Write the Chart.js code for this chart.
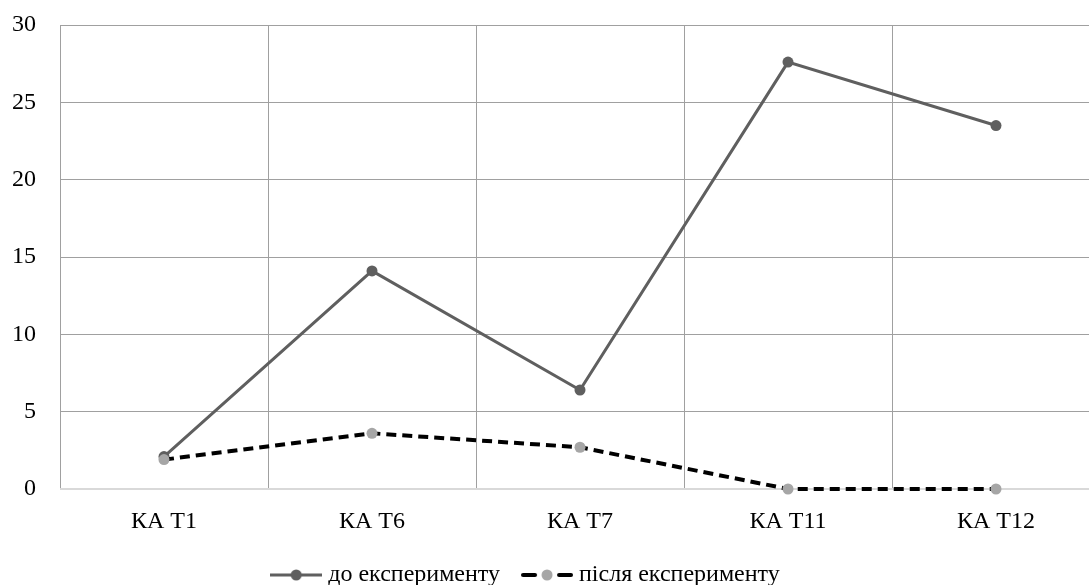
<!DOCTYPE html>
<html>
<head>
<meta charset="utf-8">
<script src="https://cdn.jsdelivr.net/npm/chart.js@4/dist/chart.umd.min.js"></script>
<style>
  html, body { margin: 0; padding: 0; background: #ffffff; overflow: hidden; }
  #wrap { width: 1110px; height: 597px; position: relative; }
</style>
</head>
<body>
<div id="wrap"><canvas id="c"></canvas></div>
<script>
const categories = ["КА Т1", "КА Т6", "КА Т7", "КА Т11", "КА Т12"];
const seriesNames = ["до експерименту", "після експерименту"];
const beforeValues = [2.1, 14.1, 6.4, 27.6, 23.5];
const afterValues = [1.9, 3.6, 2.7, 0, 0];
const yTicks = [0, 5, 10, 15, 20, 25, 30];

const FONT = "'Liberation Serif', 'Times New Roman', serif";

function legendSymbol(lineColor, pointColor, dashed, lineW) {
  const cv = document.createElement('canvas');
  cv.width = 52; cv.height = 14;
  const ctx = cv.getContext('2d');
  ctx.strokeStyle = lineColor;
  ctx.lineWidth = lineW;
  if (dashed) {
    ctx.lineCap = 'round';
    ctx.beginPath(); ctx.moveTo(2, 7); ctx.lineTo(14, 7); ctx.stroke();
    ctx.beginPath(); ctx.moveTo(38, 7); ctx.lineTo(50, 7); ctx.stroke();
  } else {
    ctx.beginPath(); ctx.moveTo(0, 7); ctx.lineTo(52, 7); ctx.stroke();
  }
  ctx.fillStyle = pointColor;
  ctx.beginPath(); ctx.arc(26, 7, 5.5, 0, Math.PI * 2); ctx.fill();
  return cv;
}

const sym1 = legendSymbol('#5f5f5f', '#5f5f5f', false, 3);
const sym2 = legendSymbol('#000000', '#a6a6a6', true, 4);

const legendShift = {
  id: 'legendShift',
  afterLayout(chart) {
    const lg = chart.legend;
    if (lg) { lg.left -= 22; lg.right -= 22; }
  }
};

new Chart(document.getElementById('c'), {
  type: 'line',
  data: {
    labels: categories,
    datasets: [
      {
        label: seriesNames[0],
        data: beforeValues,
        borderColor: '#5f5f5f',
        backgroundColor: '#5f5f5f',
        borderWidth: 3,
        pointRadius: 5.5,
        pointBackgroundColor: '#5f5f5f',
        pointBorderWidth: 0,
        pointStyle: 'circle',
        tension: 0,
        clip: false,
        order: 1
      },
      {
        label: seriesNames[1],
        data: afterValues,
        borderColor: '#000000',
        backgroundColor: '#a6a6a6',
        borderWidth: 4,
        borderDash: [10, 6],
        pointRadius: 5.5,
        pointBackgroundColor: '#a6a6a6',
        pointBorderWidth: 0,
        pointStyle: 'circle',
        tension: 0,
        clip: false,
        order: 0
      }
    ]
  },
  options: {
    responsive: true,
    maintainAspectRatio: false,
    animation: false,
    layout: { padding: { top: 25, left: 0, right: 10, bottom: 0 } },
    scales: {
      x: {
        offset: true,
        grid: { offset: true, color: '#a0a0a0', lineWidth: 1, drawTicks: false },
        border: { display: false },
        ticks: { color: '#000000', font: { family: FONT, size: 24 }, padding: 18, maxRotation: 0 },
        afterFit(scale) { scale.height = 47; }
      },
      y: {
        min: 0, max: 30,
        afterBuildTicks(scale) { scale.ticks = yTicks.map(v => ({ value: v })); },
        grid: {
          color: ctx => (ctx.tick && ctx.tick.value === 0) ? '#d9d9d9' : '#a0a0a0',
          lineWidth: ctx => (ctx.tick && ctx.tick.value === 0) ? 2 : 1,
          drawTicks: false
        },
        border: { display: false },
        ticks: { color: '#000000', font: { family: FONT, size: 24 }, padding: 24 },
        afterFit(scale) { scale.width = 60; scale.paddingTop = 0; scale.paddingBottom = 0; }
      }
    },
    plugins: {
      legend: {
        position: 'bottom',
        labels: {
          usePointStyle: true,
          pointStyleWidth: 40,
          padding: 27,
          color: '#000000',
          font: { family: FONT, size: 24 },
          sort: (a, b) => a.datasetIndex - b.datasetIndex,
          generateLabels(chart) {
            return chart.data.datasets.map((ds, i) => ({
              text: ds.label,
              datasetIndex: i,
              pointStyle: i === 0 ? sym1 : sym2,
              fillStyle: ds.backgroundColor,
              strokeStyle: ds.borderColor,
              lineWidth: 0,
              hidden: false,
              fontColor: '#000000'
            }));
          }
        }
      },
      tooltip: { enabled: false }
    }
  },
  plugins: [legendShift]
});
</script>
</body>
</html>
